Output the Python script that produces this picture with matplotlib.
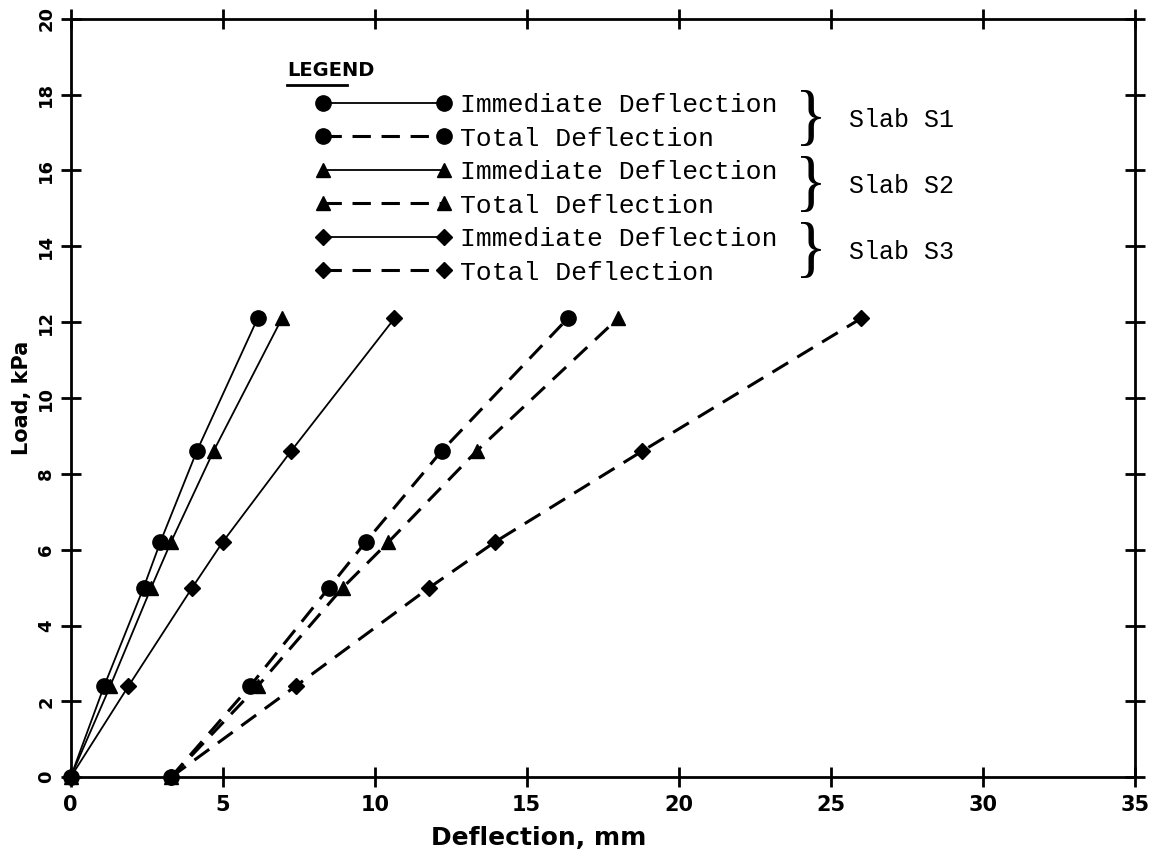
import matplotlib.pyplot as plt
from matplotlib.lines import Line2D

# Load steps (kPa)
carga = [0, 2.4, 5.0, 6.2, 8.6, 12.1]

# Deflection (mm) per slab: immediate and total
s1_inmediata = [0, 1.1, 2.4, 2.95, 4.15, 6.15]
s2_inmediata = [0, 1.3, 2.65, 3.3, 4.7, 6.95]
s3_inmediata = [0, 1.9, 4.0, 5.0, 7.25, 10.65]
s1_total = [3.3, 5.9, 8.5, 9.7, 12.2, 16.35]
s2_total = [3.3, 6.15, 8.95, 10.45, 13.35, 18.0]
s3_total = [3.3, 7.4, 11.8, 13.95, 18.8, 26.0]

etiquetas = ['Immediate Deflection', 'Total Deflection'] * 3
losas = ['Slab S1', 'Slab S2', 'Slab S3']

fig = plt.figure(figsize=(11.58, 8.55), dpi=100)
ax = fig.add_axes([0.061, 0.091, 0.919, 0.887])

marcadores = ['o', '^', 'D']
tamanos = [11, 10, 8]
series = [(s1_inmediata, s1_total), (s2_inmediata, s2_total), (s3_inmediata, s3_total)]
handles = []
for (inm, tot), m, ms in zip(series, marcadores, tamanos):
    h1, = ax.plot(inm, carga, color='black', lw=1.3, marker=m, ms=ms, clip_on=False, zorder=3)
    h2, = ax.plot(tot, carga, color='black', lw=2.2, ls=(0, (6, 3.5)), marker=m, ms=ms,
                  clip_on=False, zorder=3)
    handles += [h1, h2]

ax.set_xlim(0, 35)
ax.set_ylim(0, 20)
ax.set_xticks(range(0, 36, 5))
ax.set_yticks(range(0, 21, 2))
for s in ax.spines.values():
    s.set_linewidth(2)

ax.tick_params(axis='x', labelsize=15, pad=6)
ax.tick_params(axis='y', labelsize=13, pad=4)
ax.tick_params(top=True, right=True, labeltop=False, labelright=False)
ax.xaxis.set_tick_params(which='major', direction='inout', length=14, width=2)
ax.yaxis.set_tick_params(which='major', direction='inout', length=14, width=2)
for lbl in ax.get_xticklabels():
    lbl.set_fontweight('bold')
for lbl in ax.get_yticklabels():
    lbl.set_fontweight('bold')
    lbl.set_rotation(90)
    lbl.set_va('center')

ax.set_xlabel('Deflection, mm', fontsize=18, fontweight='bold', labelpad=2)
ax.set_ylabel('Load, kPa', fontsize=15, fontweight='bold', labelpad=4)
ax.xaxis.set_label_coords(0.44, -0.065)

# Legend
leg = ax.legend(handles, etiquetas, loc='upper left', bbox_to_anchor=(0.272, 0.891),
                bbox_transform=fig.transFigure, frameon=False, numpoints=2,
                handlelength=5.2, handletextpad=0.3, labelspacing=0.36,
                borderpad=0, borderaxespad=0,
                prop={'family': 'Liberation Mono', 'size': 19})

fig.text(0.248, 0.907, 'LEGEND', fontsize=14, fontweight='bold', ha='left', va='bottom')
fig.add_artist(Line2D([0.248, 0.300], [0.901, 0.901], color='black', lw=2))

for i, nombre in enumerate(losas):
    yc = 1 - (120 + i * 66) / 855
    fig.text(0.700, yc, '}', fontsize=48, fontfamily='Liberation Serif',
             fontweight='light', ha='center', va='center')
    fig.text(0.733, yc, nombre, fontsize=18, fontfamily='Liberation Mono',
             ha='left', va='center')

fig.savefig('out.png', dpi=100)
